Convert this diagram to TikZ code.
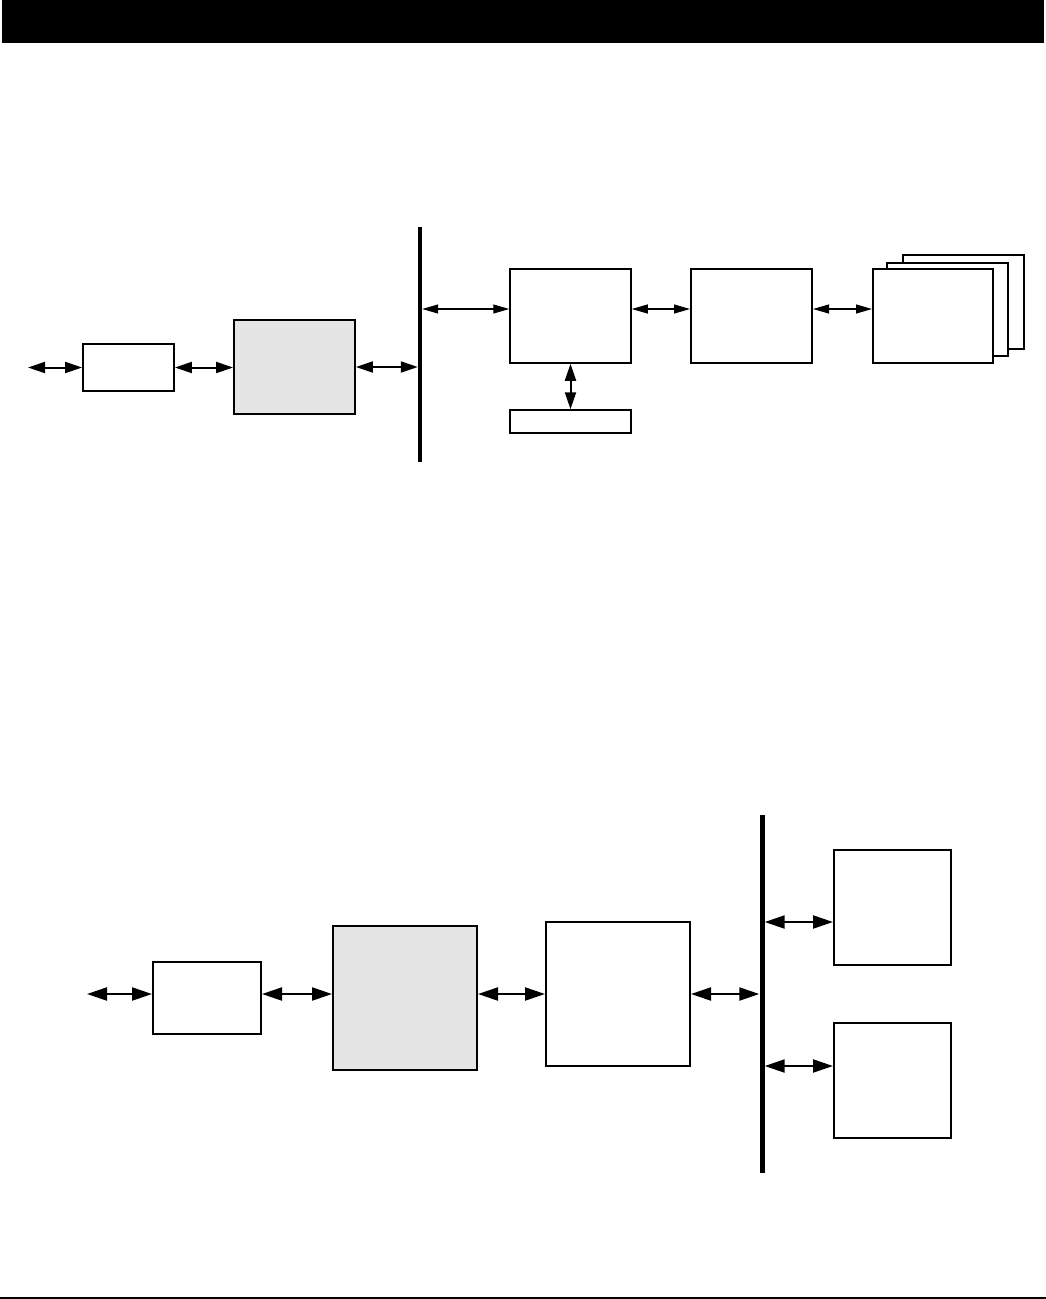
\documentclass[tikz,border=0pt]{standalone}
\usetikzlibrary{arrows.meta}
\begin{document}
\begin{tikzpicture}[x=1pt,y=-1pt,
  blk/.style={draw=black,fill=white,rectangle,inner sep=0pt,line width=1.8pt},
  gblk/.style={blk,fill=black!10},
  busbar/.style={fill=black,draw=none,rectangle,inner sep=0pt},
  thickarr/.style={line width=2pt,{Triangle[length=17pt,width=11pt]}-{Triangle[length=17pt,width=11pt]}},
  thinarr/.style={line width=1.1pt,{Triangle[length=16pt,width=9pt]}-{Triangle[length=16pt,width=9pt]}},
  bigarr/.style={line width=2.2pt,{Triangle[length=20pt,width=13pt]}-{Triangle[length=20pt,width=13pt]}}]
\useasboundingbox (0,0) rectangle (1046,1299);
% header bar and footer line
\fill[black] (2,0) rectangle (1044,43);
\fill[black] (0,1296.5) rectangle (1046,1299);

% ---------- top diagram ----------
\node[blk,minimum width=91pt,minimum height=47pt] (A) at (128.5,367.5) {};
\node[gblk,minimum width=121pt,minimum height=94pt] (B) at (294.5,367) {};
\node[busbar,minimum width=4pt,minimum height=235pt] (bus1) at (420,344.5) {};
\node[blk,line width=1.5pt,minimum width=121pt,minimum height=94pt] (C) at (570.5,316) {};
\node[blk,line width=1.5pt,minimum width=121pt,minimum height=23pt] (D) at (570.5,421.5) {};
\node[blk,line width=2pt,minimum width=121pt,minimum height=94pt] (E) at (751.5,316) {};
\node[blk,line width=2.6pt,minimum width=121pt,minimum height=94pt] (F3) at (963.5,302) {};
\node[blk,line width=1.8pt,minimum width=121pt,minimum height=93pt] (F2) at (947.5,309.5) {};
\node[blk,line width=2pt,minimum width=120pt,minimum height=94pt] (F1) at (933,316) {};

\coordinate (in1) at (28,367.5);
\draw[thickarr] (in1) -- (A.west);
\draw[thickarr] (A.east) -- (B.west |- A.east);
\draw[thickarr] (B.east) -- (bus1.west |- B.east);
\coordinate (yC) at (0,309);
\draw[thinarr] (bus1.east |- yC) -- (C.west |- yC);
\draw[thickarr] (C.south) -- (D.north);
\draw[thinarr] (C.east |- yC) -- (E.west |- yC);
\draw[thinarr] (E.east |- yC) -- (F1.west |- yC);

% ---------- bottom diagram ----------
\node[blk,line width=2pt,minimum width=108pt,minimum height=72pt] (G) at (207,998) {};
\node[gblk,line width=2pt,minimum width=144pt,minimum height=144pt] (H) at (405,998) {};
\node[blk,line width=2pt,minimum width=144pt,minimum height=144pt] (I) at (618,994) {};
\node[busbar,minimum width=5pt,minimum height=358pt] (bus2) at (762,994) {};
\node[blk,line width=2pt,minimum width=117pt,minimum height=115pt] (J) at (892.5,907.5) {};
\node[blk,line width=2pt,minimum width=117pt,minimum height=115pt] (K) at (892.5,1080.5) {};

\coordinate (yM) at (0,994);
\coordinate (yJ) at (0,922);
\coordinate (yK) at (0,1066);
\coordinate (in2) at (87,994);
\draw[bigarr] (in2) -- (G.west |- yM);
\draw[bigarr] (G.east |- yM) -- (H.west |- yM);
\draw[bigarr] (H.east |- yM) -- (I.west |- yM);
\draw[bigarr] (I.east |- yM) -- (bus2.west |- yM);
\draw[bigarr] (bus2.east |- yJ) -- (J.west |- yJ);
\draw[bigarr] (bus2.east |- yK) -- (K.west |- yK);
\end{tikzpicture}
\end{document}
